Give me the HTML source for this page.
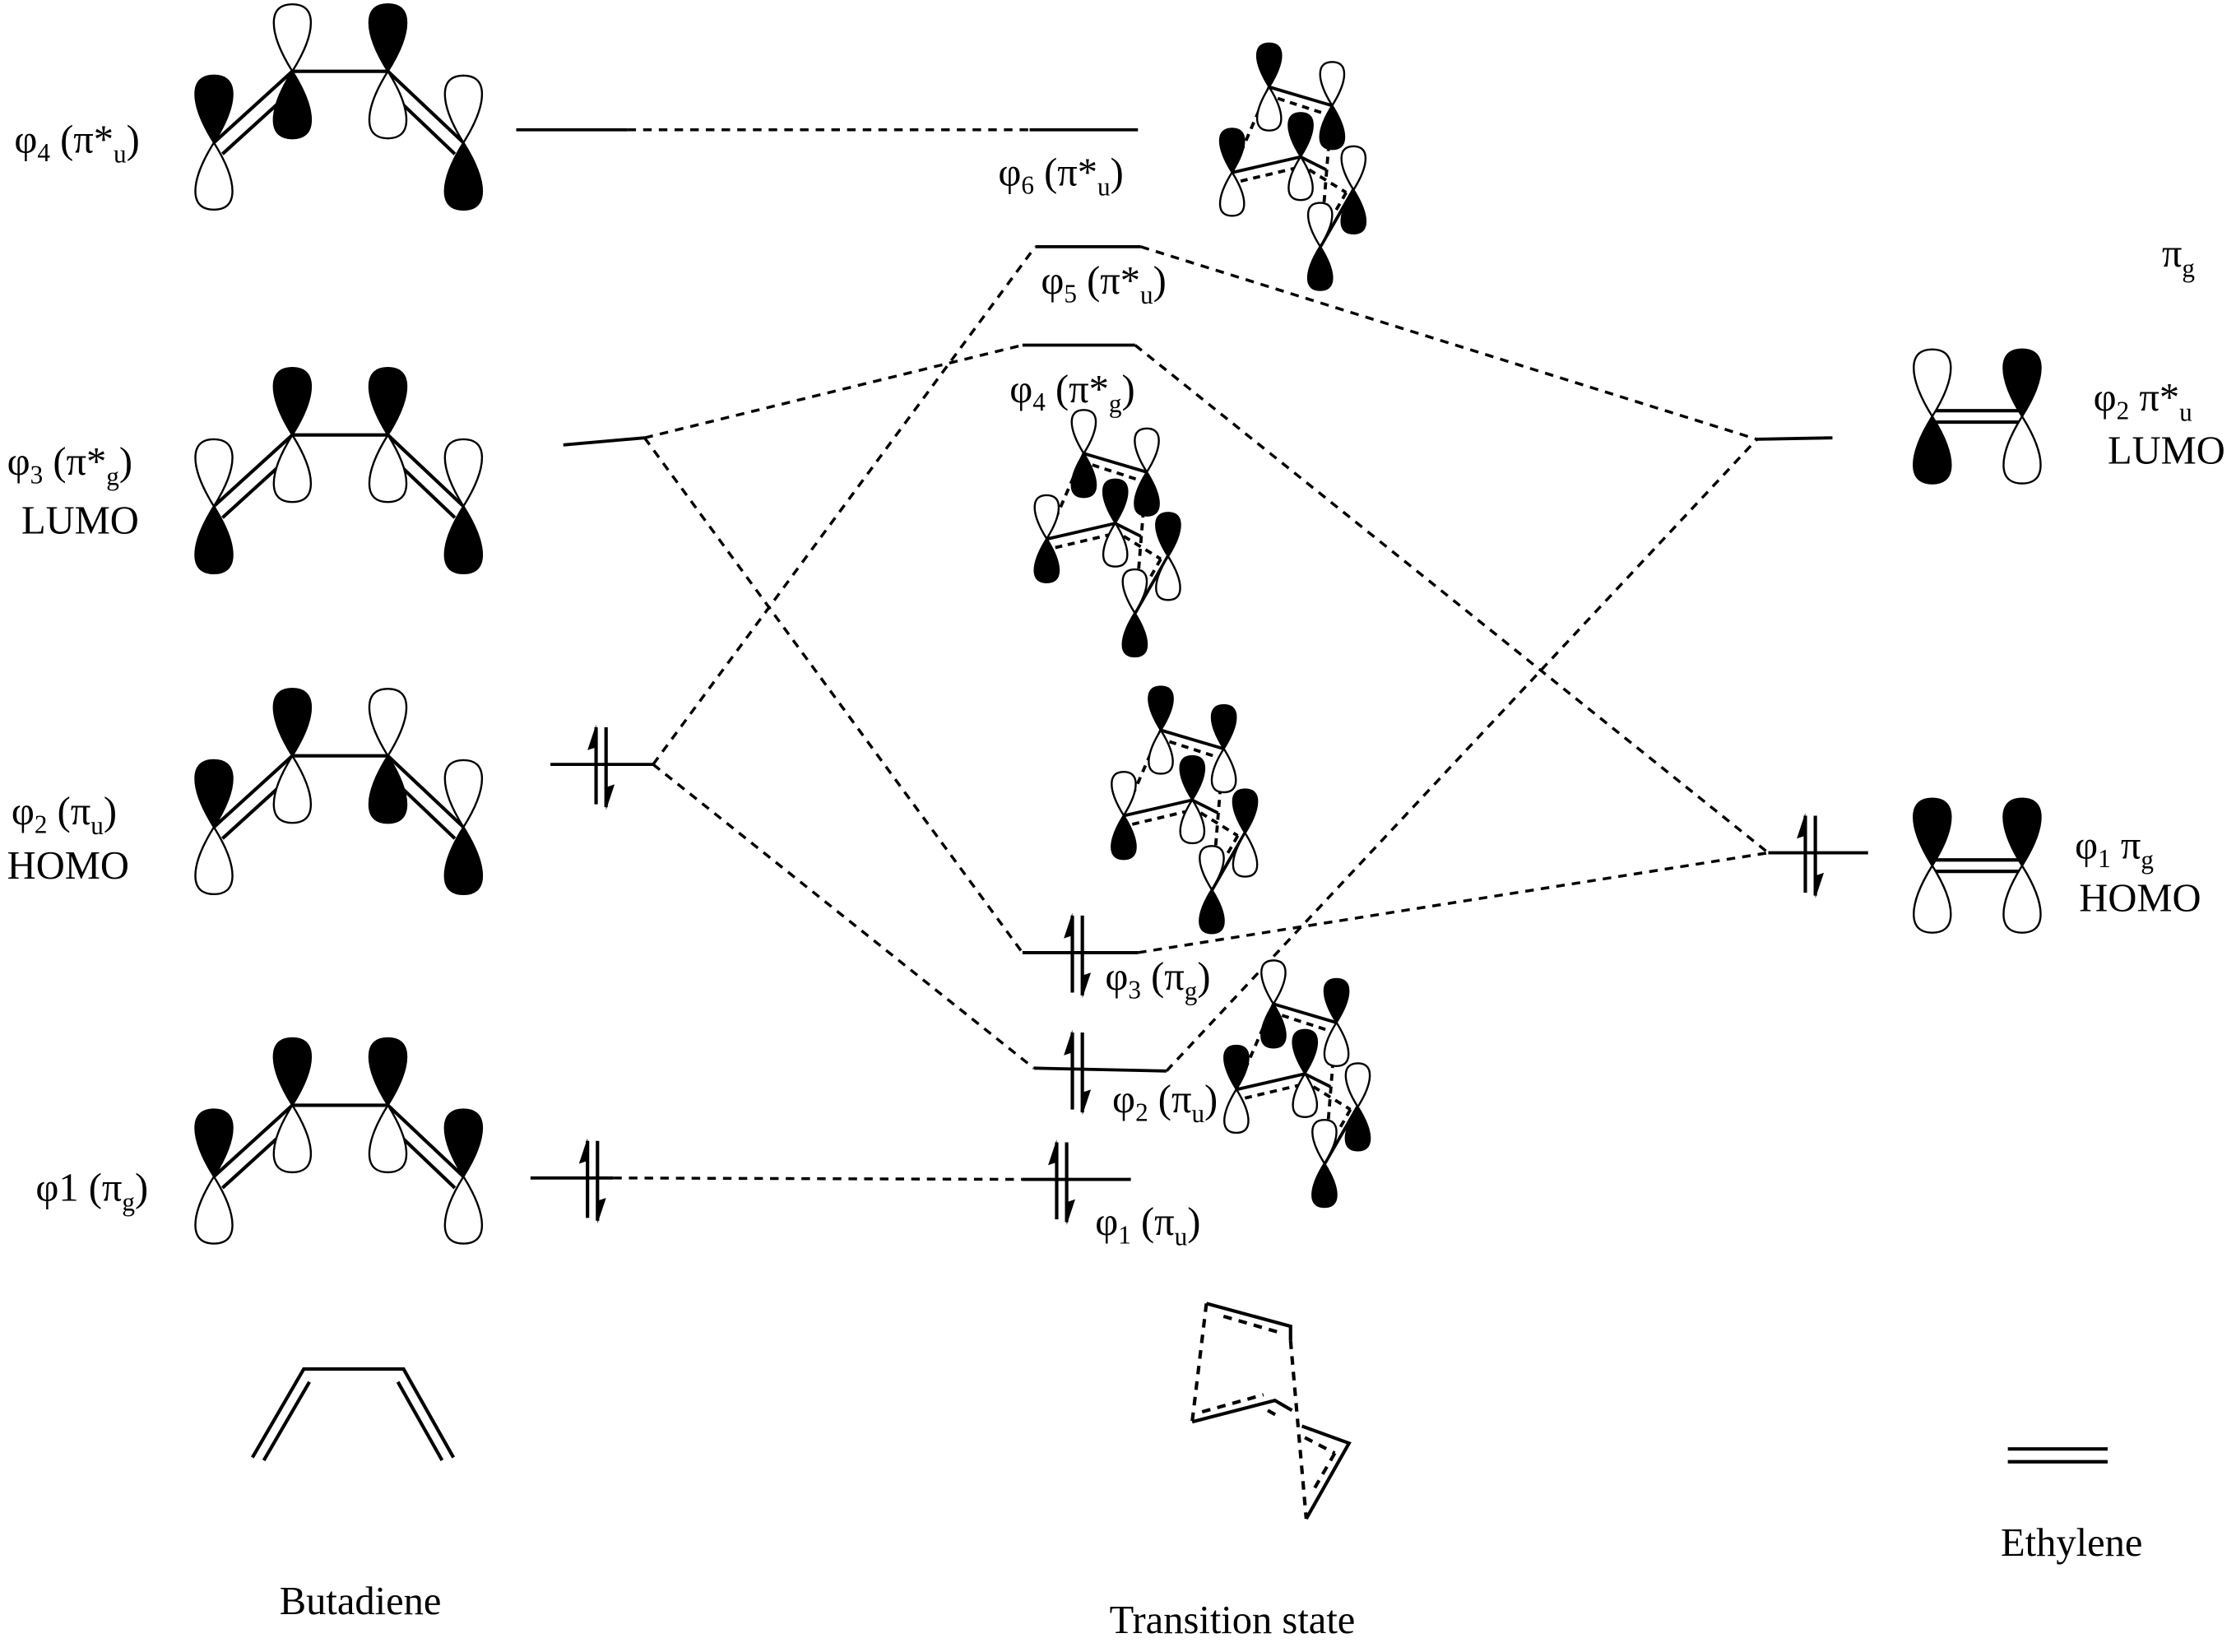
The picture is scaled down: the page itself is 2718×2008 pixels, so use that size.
<!DOCTYPE html>
<html><head><meta charset="utf-8"><style>
html,body{margin:0;padding:0;background:#fff;}
svg{display:block;}
text{font-family:"Liberation Serif","DejaVu Serif",serif;font-size:28px;fill:#000;}
</style></head><body>
<svg width="2718" height="2008" viewBox="0 0 1568 1158.4" xmlns="http://www.w3.org/2000/svg">
<defs>
<path id="lb" d="M0,0 C-5,-8 -13,-22 -13,-34 C-13,-44 -7,-47 0,-47 C7,-47 13,-44 13,-34 C13,-22 5,-8 0,0Z" stroke="#000" stroke-width="2.4" vector-effect="non-scaling-stroke"/>
<g id="upa"><line x1="0" y1="-28" x2="0" y2="26" stroke="#000" stroke-width="2.4"/><polygon points="0,-30 -6,-12 0,-14" fill="#000"/></g>
<g id="dna"><line x1="0" y1="-28" x2="0" y2="28" stroke="#000" stroke-width="2.4"/><polygon points="0,30 6,12 0,14" fill="#000"/></g>
</defs>
<g fill="none" stroke="#000" stroke-width="2.2">
<line x1="362" y1="91" x2="440" y2="91"/>
<line x1="395" y1="312" x2="452" y2="307"/>
<line x1="386" y1="536" x2="458" y2="536"/>
<line x1="372" y1="826" x2="430" y2="826"/>
<line x1="722" y1="91" x2="798" y2="91"/>
<line x1="726" y1="173" x2="800" y2="173"/>
<line x1="717" y1="242" x2="796" y2="242"/>
<line x1="717" y1="668" x2="798" y2="668"/>
<line x1="725" y1="749" x2="818" y2="751"/>
<line x1="717" y1="827" x2="793" y2="827"/>
<line x1="1232" y1="308" x2="1285" y2="307"/>
<line x1="1240" y1="598" x2="1310" y2="598"/>
<g stroke-dasharray="6,5" stroke-width="2">
<line x1="440" y1="91" x2="722" y2="91"/>
<line x1="452" y1="307" x2="717" y2="242"/>
<line x1="452" y1="307" x2="717" y2="668"/>
<line x1="458" y1="536" x2="726" y2="173"/>
<line x1="458" y1="536" x2="725" y2="749"/>
<line x1="430" y1="826" x2="717" y2="827"/>
<line x1="800" y1="173" x2="1232" y2="308"/>
<line x1="796" y1="242" x2="1240" y2="598"/>
<line x1="798" y1="668" x2="1240" y2="598"/>
<line x1="818" y1="751" x2="1232" y2="308"/>
</g>
</g>
<use href="#upa" x="418" y="538"/><use href="#dna" x="425" y="538"/>
<use href="#upa" x="412" y="828"/><use href="#dna" x="419" y="828"/>
<use href="#upa" x="752" y="670"/><use href="#dna" x="759" y="670"/>
<use href="#upa" x="752" y="752"/><use href="#dna" x="759" y="752"/>
<use href="#upa" x="741" y="829"/><use href="#dna" x="748" y="829"/>
<use href="#upa" x="1266" y="600"/><use href="#dna" x="1273" y="600"/>

<g>
<g stroke="#000" stroke-width="2.4" fill="none"><line x1="205" y1="50" x2="272" y2="50"/><line x1="150" y1="100" x2="205" y2="50"/><line x1="156" y1="108" x2="200" y2="68"/><line x1="272" y1="50" x2="325" y2="100"/><line x1="277" y1="68" x2="319" y2="108"/></g>
<use href="#lb" transform="translate(150,100)" fill="#000"/><use href="#lb" transform="translate(150,100) scale(1,-1)" fill="#fff"/>
<use href="#lb" transform="translate(205,50)" fill="#fff"/><use href="#lb" transform="translate(205,50) scale(1,-1)" fill="#000"/>
<use href="#lb" transform="translate(272,50)" fill="#000"/><use href="#lb" transform="translate(272,50) scale(1,-1)" fill="#fff"/>
<use href="#lb" transform="translate(325,100)" fill="#fff"/><use href="#lb" transform="translate(325,100) scale(1,-1)" fill="#000"/>
</g>
<g transform="translate(0,255)">
<g stroke="#000" stroke-width="2.4" fill="none"><line x1="205" y1="50" x2="272" y2="50"/><line x1="150" y1="100" x2="205" y2="50"/><line x1="156" y1="108" x2="200" y2="68"/><line x1="272" y1="50" x2="325" y2="100"/><line x1="277" y1="68" x2="319" y2="108"/></g>
<use href="#lb" transform="translate(150,100)" fill="#fff"/><use href="#lb" transform="translate(150,100) scale(1,-1)" fill="#000"/>
<use href="#lb" transform="translate(205,50)" fill="#000"/><use href="#lb" transform="translate(205,50) scale(1,-1)" fill="#fff"/>
<use href="#lb" transform="translate(272,50)" fill="#000"/><use href="#lb" transform="translate(272,50) scale(1,-1)" fill="#fff"/>
<use href="#lb" transform="translate(325,100)" fill="#fff"/><use href="#lb" transform="translate(325,100) scale(1,-1)" fill="#000"/>
</g>
<g transform="translate(0,480)">
<g stroke="#000" stroke-width="2.4" fill="none"><line x1="205" y1="50" x2="272" y2="50"/><line x1="150" y1="100" x2="205" y2="50"/><line x1="156" y1="108" x2="200" y2="68"/><line x1="272" y1="50" x2="325" y2="100"/><line x1="277" y1="68" x2="319" y2="108"/></g>
<use href="#lb" transform="translate(150,100)" fill="#000"/><use href="#lb" transform="translate(150,100) scale(1,-1)" fill="#fff"/>
<use href="#lb" transform="translate(205,50)" fill="#000"/><use href="#lb" transform="translate(205,50) scale(1,-1)" fill="#fff"/>
<use href="#lb" transform="translate(272,50)" fill="#fff"/><use href="#lb" transform="translate(272,50) scale(1,-1)" fill="#000"/>
<use href="#lb" transform="translate(325,100)" fill="#fff"/><use href="#lb" transform="translate(325,100) scale(1,-1)" fill="#000"/>
</g>
<g transform="translate(0,725)">
<g stroke="#000" stroke-width="2.4" fill="none"><line x1="205" y1="50" x2="272" y2="50"/><line x1="150" y1="100" x2="205" y2="50"/><line x1="156" y1="108" x2="200" y2="68"/><line x1="272" y1="50" x2="325" y2="100"/><line x1="277" y1="68" x2="319" y2="108"/></g>
<use href="#lb" transform="translate(150,100)" fill="#000"/><use href="#lb" transform="translate(150,100) scale(1,-1)" fill="#fff"/>
<use href="#lb" transform="translate(205,50)" fill="#000"/><use href="#lb" transform="translate(205,50) scale(1,-1)" fill="#fff"/>
<use href="#lb" transform="translate(272,50)" fill="#000"/><use href="#lb" transform="translate(272,50) scale(1,-1)" fill="#fff"/>
<use href="#lb" transform="translate(325,100)" fill="#000"/><use href="#lb" transform="translate(325,100) scale(1,-1)" fill="#fff"/>
</g>

<g stroke="#000" stroke-width="2.4"><line x1="1355" y1="288" x2="1418" y2="288"/><line x1="1355" y1="296" x2="1418" y2="296"/>
<line x1="1355" y1="603" x2="1418" y2="603"/><line x1="1355" y1="611" x2="1418" y2="611"/></g>
<use href="#lb" transform="translate(1355,292)" fill="#fff"/><use href="#lb" transform="translate(1355,292) scale(1,-1)" fill="#000"/>
<use href="#lb" transform="translate(1418,292)" fill="#000"/><use href="#lb" transform="translate(1418,292) scale(1,-1)" fill="#fff"/>
<use href="#lb" transform="translate(1355,607)" fill="#000"/><use href="#lb" transform="translate(1355,607) scale(1,-1)" fill="#fff"/>
<use href="#lb" transform="translate(1418,607)" fill="#000"/><use href="#lb" transform="translate(1418,607) scale(1,-1)" fill="#fff"/>

<g transform="translate(890,61)">
<g stroke="#000" stroke-width="2.2" fill="none"><line x1="0" y1="0" x2="44" y2="13"/><line x1="-26" y1="60" x2="22" y2="49"/><line x1="22" y1="49" x2="40" y2="58"/><line x1="59" y1="72" x2="36" y2="112"/>
<g stroke-dasharray="5,4"><line x1="6" y1="8" x2="40" y2="19"/><line x1="-20" y1="66" x2="18" y2="57"/><line x1="0" y1="0" x2="-26" y2="60"/><line x1="44" y1="13" x2="36" y2="112"/><line x1="28" y1="58" x2="54" y2="74"/><line x1="54" y1="74" x2="46" y2="88"/></g></g>
<g transform="scale(0.65)">
<use href="#lb" transform="translate(0,0)" fill="#000"/><use href="#lb" transform="translate(0,0) scale(1,-1)" fill="#fff"/>
<use href="#lb" transform="translate(68,20)" fill="#fff"/><use href="#lb" transform="translate(68,20) scale(1,-1)" fill="#000"/>
<use href="#lb" transform="translate(-40,92)" fill="#000"/><use href="#lb" transform="translate(-40,92) scale(1,-1)" fill="#fff"/>
<use href="#lb" transform="translate(34,75)" fill="#000"/><use href="#lb" transform="translate(34,75) scale(1,-1)" fill="#fff"/>
<use href="#lb" transform="translate(91,111)" fill="#fff"/><use href="#lb" transform="translate(91,111) scale(1,-1)" fill="#000"/>
<use href="#lb" transform="translate(55,172)" fill="#fff"/><use href="#lb" transform="translate(55,172) scale(1,-1)" fill="#000"/>
</g></g>
<g transform="translate(760,318)">
<g stroke="#000" stroke-width="2.2" fill="none"><line x1="0" y1="0" x2="44" y2="13"/><line x1="-26" y1="60" x2="22" y2="49"/><line x1="22" y1="49" x2="40" y2="58"/><line x1="59" y1="72" x2="36" y2="112"/>
<g stroke-dasharray="5,4"><line x1="6" y1="8" x2="40" y2="19"/><line x1="-20" y1="66" x2="18" y2="57"/><line x1="0" y1="0" x2="-26" y2="60"/><line x1="44" y1="13" x2="36" y2="112"/><line x1="28" y1="58" x2="54" y2="74"/><line x1="54" y1="74" x2="46" y2="88"/></g></g>
<g transform="scale(0.65)">
<use href="#lb" transform="translate(0,0)" fill="#fff"/><use href="#lb" transform="translate(0,0) scale(1,-1)" fill="#000"/>
<use href="#lb" transform="translate(68,20)" fill="#fff"/><use href="#lb" transform="translate(68,20) scale(1,-1)" fill="#000"/>
<use href="#lb" transform="translate(-40,92)" fill="#fff"/><use href="#lb" transform="translate(-40,92) scale(1,-1)" fill="#000"/>
<use href="#lb" transform="translate(34,75)" fill="#000"/><use href="#lb" transform="translate(34,75) scale(1,-1)" fill="#fff"/>
<use href="#lb" transform="translate(91,111)" fill="#000"/><use href="#lb" transform="translate(91,111) scale(1,-1)" fill="#fff"/>
<use href="#lb" transform="translate(55,172)" fill="#fff"/><use href="#lb" transform="translate(55,172) scale(1,-1)" fill="#000"/>
</g></g>
<g transform="translate(814,512)">
<g stroke="#000" stroke-width="2.2" fill="none"><line x1="0" y1="0" x2="44" y2="13"/><line x1="-26" y1="60" x2="22" y2="49"/><line x1="22" y1="49" x2="40" y2="58"/><line x1="59" y1="72" x2="36" y2="112"/>
<g stroke-dasharray="5,4"><line x1="6" y1="8" x2="40" y2="19"/><line x1="-20" y1="66" x2="18" y2="57"/><line x1="0" y1="0" x2="-26" y2="60"/><line x1="44" y1="13" x2="36" y2="112"/><line x1="28" y1="58" x2="54" y2="74"/><line x1="54" y1="74" x2="46" y2="88"/></g></g>
<g transform="scale(0.65)">
<use href="#lb" transform="translate(0,0)" fill="#000"/><use href="#lb" transform="translate(0,0) scale(1,-1)" fill="#fff"/>
<use href="#lb" transform="translate(68,20)" fill="#000"/><use href="#lb" transform="translate(68,20) scale(1,-1)" fill="#fff"/>
<use href="#lb" transform="translate(-40,92)" fill="#fff"/><use href="#lb" transform="translate(-40,92) scale(1,-1)" fill="#000"/>
<use href="#lb" transform="translate(34,75)" fill="#000"/><use href="#lb" transform="translate(34,75) scale(1,-1)" fill="#fff"/>
<use href="#lb" transform="translate(91,111)" fill="#000"/><use href="#lb" transform="translate(91,111) scale(1,-1)" fill="#fff"/>
<use href="#lb" transform="translate(55,172)" fill="#fff"/><use href="#lb" transform="translate(55,172) scale(1,-1)" fill="#000"/>
</g></g>
<g transform="translate(893,704)">
<g stroke="#000" stroke-width="2.2" fill="none"><line x1="0" y1="0" x2="44" y2="13"/><line x1="-26" y1="60" x2="22" y2="49"/><line x1="22" y1="49" x2="40" y2="58"/><line x1="59" y1="72" x2="36" y2="112"/>
<g stroke-dasharray="5,4"><line x1="6" y1="8" x2="40" y2="19"/><line x1="-20" y1="66" x2="18" y2="57"/><line x1="0" y1="0" x2="-26" y2="60"/><line x1="44" y1="13" x2="36" y2="112"/><line x1="28" y1="58" x2="54" y2="74"/><line x1="54" y1="74" x2="46" y2="88"/></g></g>
<g transform="scale(0.65)">
<use href="#lb" transform="translate(0,0)" fill="#fff"/><use href="#lb" transform="translate(0,0) scale(1,-1)" fill="#000"/>
<use href="#lb" transform="translate(68,20)" fill="#000"/><use href="#lb" transform="translate(68,20) scale(1,-1)" fill="#fff"/>
<use href="#lb" transform="translate(-40,92)" fill="#000"/><use href="#lb" transform="translate(-40,92) scale(1,-1)" fill="#fff"/>
<use href="#lb" transform="translate(34,75)" fill="#000"/><use href="#lb" transform="translate(34,75) scale(1,-1)" fill="#fff"/>
<use href="#lb" transform="translate(91,111)" fill="#fff"/><use href="#lb" transform="translate(91,111) scale(1,-1)" fill="#000"/>
<use href="#lb" transform="translate(55,172)" fill="#fff"/><use href="#lb" transform="translate(55,172) scale(1,-1)" fill="#000"/>
</g></g>

<g stroke="#000" stroke-width="2.4" fill="none">
<polyline points="177,1022 213,960 283,960 318,1022"/>
<line x1="185" y1="1024" x2="217" y2="969"/><line x1="279" y1="969" x2="310" y2="1024"/>
<line x1="1408" y1="1016" x2="1478" y2="1016"/><line x1="1408" y1="1025" x2="1478" y2="1025"/>
<polyline points="905,940 905,930 846,914"/>
<polyline points="836,997 894,982 906,989"/>
<polyline points="913,1000 946,1012 916,1065"/>
<g stroke-dasharray="6,5">
<line x1="846" y1="914" x2="836" y2="997"/>
<line x1="905" y1="940" x2="916" y2="1065"/>
<line x1="858" y1="923" x2="896" y2="934"/>
<line x1="843" y1="990" x2="886" y2="978"/>
<line x1="889" y1="989" x2="898" y2="994"/>
<line x1="915" y1="1008" x2="936" y2="1019"/>
<line x1="936" y1="1019" x2="921" y2="1045"/>
</g></g>

<text x="10" y="107">φ<tspan font-size="18" dy="6">4</tspan><tspan dy="-6"> (π*</tspan><tspan font-size="18" dy="7">u</tspan><tspan dy="-7">)</tspan></text>
<text x="5" y="333">φ<tspan font-size="18" dy="6">3</tspan><tspan dy="-6"> (π*</tspan><tspan font-size="18" dy="7">g</tspan><tspan dy="-7">)</tspan></text>
<text x="15" y="374">LUMO</text>
<text x="8" y="578">φ<tspan font-size="18" dy="6">2</tspan><tspan dy="-6"> (π</tspan><tspan font-size="18" dy="7">u</tspan><tspan dy="-7">)</tspan></text>
<text x="5" y="616">HOMO</text>
<text x="25" y="842">φ1 (π<tspan font-size="18" dy="7">g</tspan><tspan dy="-7">)</tspan></text>
<text x="700" y="130">φ<tspan font-size="18" dy="6">6</tspan><tspan dy="-6"> (π*</tspan><tspan font-size="18" dy="7">u</tspan><tspan dy="-7">)</tspan></text>
<text x="730" y="206">φ<tspan font-size="18" dy="6">5</tspan><tspan dy="-6"> (π*</tspan><tspan font-size="18" dy="7">u</tspan><tspan dy="-7">)</tspan></text>
<text x="708" y="282">φ<tspan font-size="18" dy="6">4</tspan><tspan dy="-6"> (π*</tspan><tspan font-size="18" dy="7">g</tspan><tspan dy="-7">)</tspan></text>
<text x="775" y="694">φ<tspan font-size="18" dy="6">3</tspan><tspan dy="-6"> (π</tspan><tspan font-size="18" dy="7">g</tspan><tspan dy="-7">)</tspan></text>
<text x="780" y="780">φ<tspan font-size="18" dy="6">2</tspan><tspan dy="-6"> (π</tspan><tspan font-size="18" dy="7">u</tspan><tspan dy="-7">)</tspan></text>
<text x="768" y="866">φ<tspan font-size="18" dy="6">1</tspan><tspan dy="-6"> (π</tspan><tspan font-size="18" dy="7">u</tspan><tspan dy="-7">)</tspan></text>
<text x="1516" y="187">π<tspan font-size="18" dy="7">g</tspan></text>
<text x="1468" y="288">φ<tspan font-size="18" dy="6">2</tspan><tspan dy="-6">  π*</tspan><tspan font-size="18" dy="7">u</tspan></text>
<text x="1478" y="325">LUMO</text>
<text x="1455" y="602">φ<tspan font-size="18" dy="6">1</tspan><tspan dy="-6"> π</tspan><tspan font-size="18" dy="7">g</tspan></text>
<text x="1458" y="639">HOMO</text>
<text x="196" y="1132">Butadiene</text>
<text x="778" y="1145">Transition state</text>
<text x="1403" y="1091">Ethylene</text>
</svg>
</body></html>
